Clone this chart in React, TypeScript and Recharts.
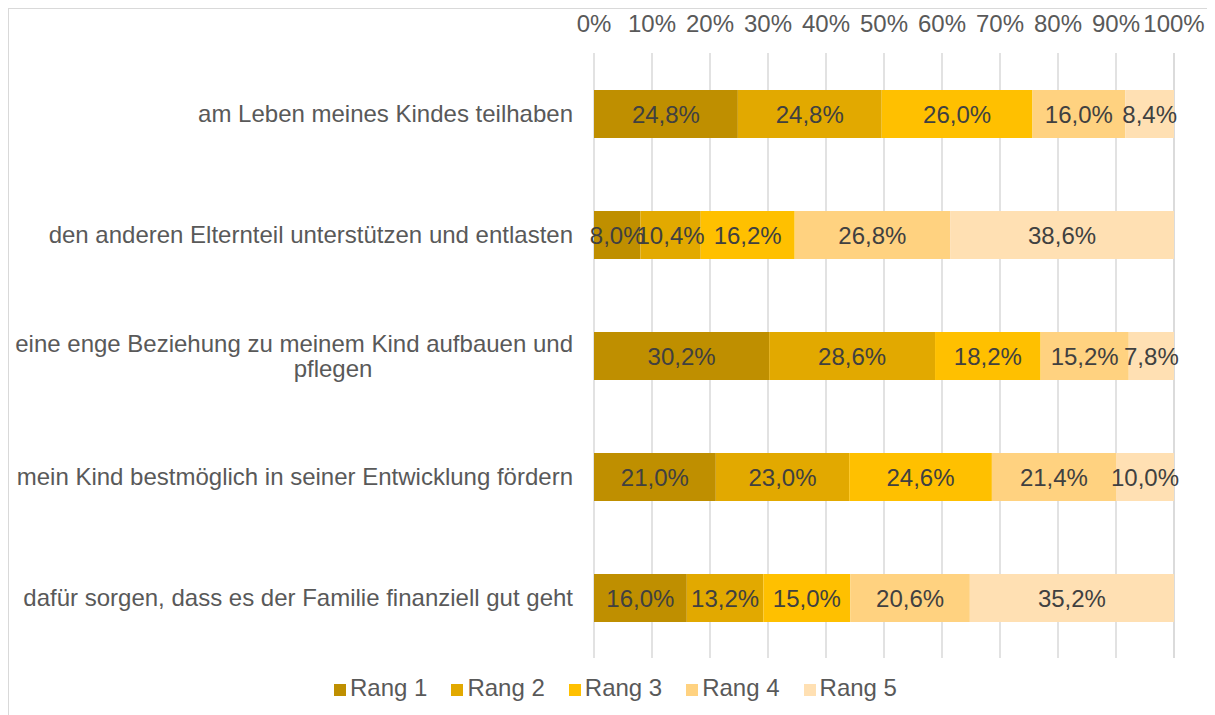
import React from "react";
import { BarChart, Bar, XAxis, YAxis, CartesianGrid, Legend, LabelList } from "recharts";

const categories = [
  "am Leben meines Kindes teilhaben",
  "den anderen Elternteil unterstützen und entlasten",
  "eine enge Beziehung zu meinem Kind aufbauen und pflegen",
  "mein Kind bestmöglich in seiner Entwicklung fördern",
  "dafür sorgen, dass es der Familie finanziell gut geht",
];
const rang1 = [24.8, 8.0, 30.2, 21.0, 16.0];
const rang2 = [24.8, 10.4, 28.6, 23.0, 13.2];
const rang3 = [26.0, 16.2, 18.2, 24.6, 15.0];
const rang4 = [16.0, 26.8, 15.2, 21.4, 20.6];
const rang5 = [8.4, 38.6, 7.8, 10.0, 35.2];
const seriesNames = ["Rang 1", "Rang 2", "Rang 3", "Rang 4", "Rang 5"];
const xTicks = [0, 10, 20, 30, 40, 50, 60, 70, 80, 90, 100];

const colors = ["#BF8F00", "#E2A900", "#FFC000", "#FFD280", "#FFE0B3"];
const FONT = "'Liberation Sans', Arial, sans-serif";
const FS = 24;

const data = categories.map((c, i) => ({
  cat: c,
  r1: rang1[i],
  r2: rang2[i],
  r3: rang3[i],
  r4: rang4[i],
  r5: rang5[i],
}));

const fmt = (v: any) => `${Number(v).toFixed(1).replace(".", ",")}%`;

const YTick = (props: any) => {
  const { x, y, payload } = props;
  const label: string = payload.value;
  if (label.startsWith("eine enge")) {
    return (
      <g>
        <text x={x} y={y - 12} textAnchor="end" dominantBaseline="central" fill="#595959" fontSize={FS} fontFamily={FONT}>
          eine enge Beziehung zu meinem Kind aufbauen und
        </text>
        <text x={x - 240} y={y + 13} textAnchor="middle" dominantBaseline="central" fill="#595959" fontSize={FS} fontFamily={FONT}>
          pflegen
        </text>
      </g>
    );
  }
  return (
    <text x={x} y={y} textAnchor="end" dominantBaseline="central" fill="#595959" fontSize={FS} fontFamily={FONT}>
      {label}
    </text>
  );
};

export default function App() {
  const keys = ["r1", "r2", "r3", "r4", "r5"];
  return (
    <div style={{ width: 1207, height: 707, borderLeft: "1px solid #d9d9d9", borderTop: "1px solid #d9d9d9", boxSizing: "border-box", fontFamily: FONT }}>
      <BarChart
        width={1205}
        height={705}
        data={data}
        layout="vertical"
        margin={{ top: 4, right: 40, bottom: 26, left: 0 }}
      >
        <CartesianGrid horizontal={false} stroke="#d9d9d9" strokeWidth={1.5} />
        <XAxis
          type="number"
          orientation="top"
          domain={[0, 100]}
          ticks={xTicks}
          tickFormatter={(v: number) => `${v}%`}
          axisLine={false}
          tickLine={false}
          tickSize={0}
          tickMargin={21}
          height={40}
          interval={0}
          tick={{ fill: "#595959", fontSize: FS, fontFamily: FONT }}
        />
        <YAxis
          type="category"
          dataKey="cat"
          width={585}
          axisLine={false}
          tickLine={false}
          tickSize={0}
          tickMargin={21}
          interval={0}
          tick={<YTick />}
        />
        <Legend
          verticalAlign="bottom"
          iconType="square"
          iconSize={12}
          height={30}
          wrapperStyle={{ fontSize: FS, fontFamily: FONT, bottom: 10, left: 36 }}
          formatter={(value: string) => <span style={{ color: "#595959", paddingRight: 14 }}>{value}</span>}
        />
        {keys.map((k, i) => (
          <Bar key={k} dataKey={k} name={seriesNames[i]} stackId="a" fill={colors[i]} barSize={48} isAnimationActive={false}>
            <LabelList dataKey={k} position="center" formatter={fmt} fill="#404040" fontSize={FS} fontFamily={FONT} />
          </Bar>
        ))}
      </BarChart>
    </div>
  );
}
